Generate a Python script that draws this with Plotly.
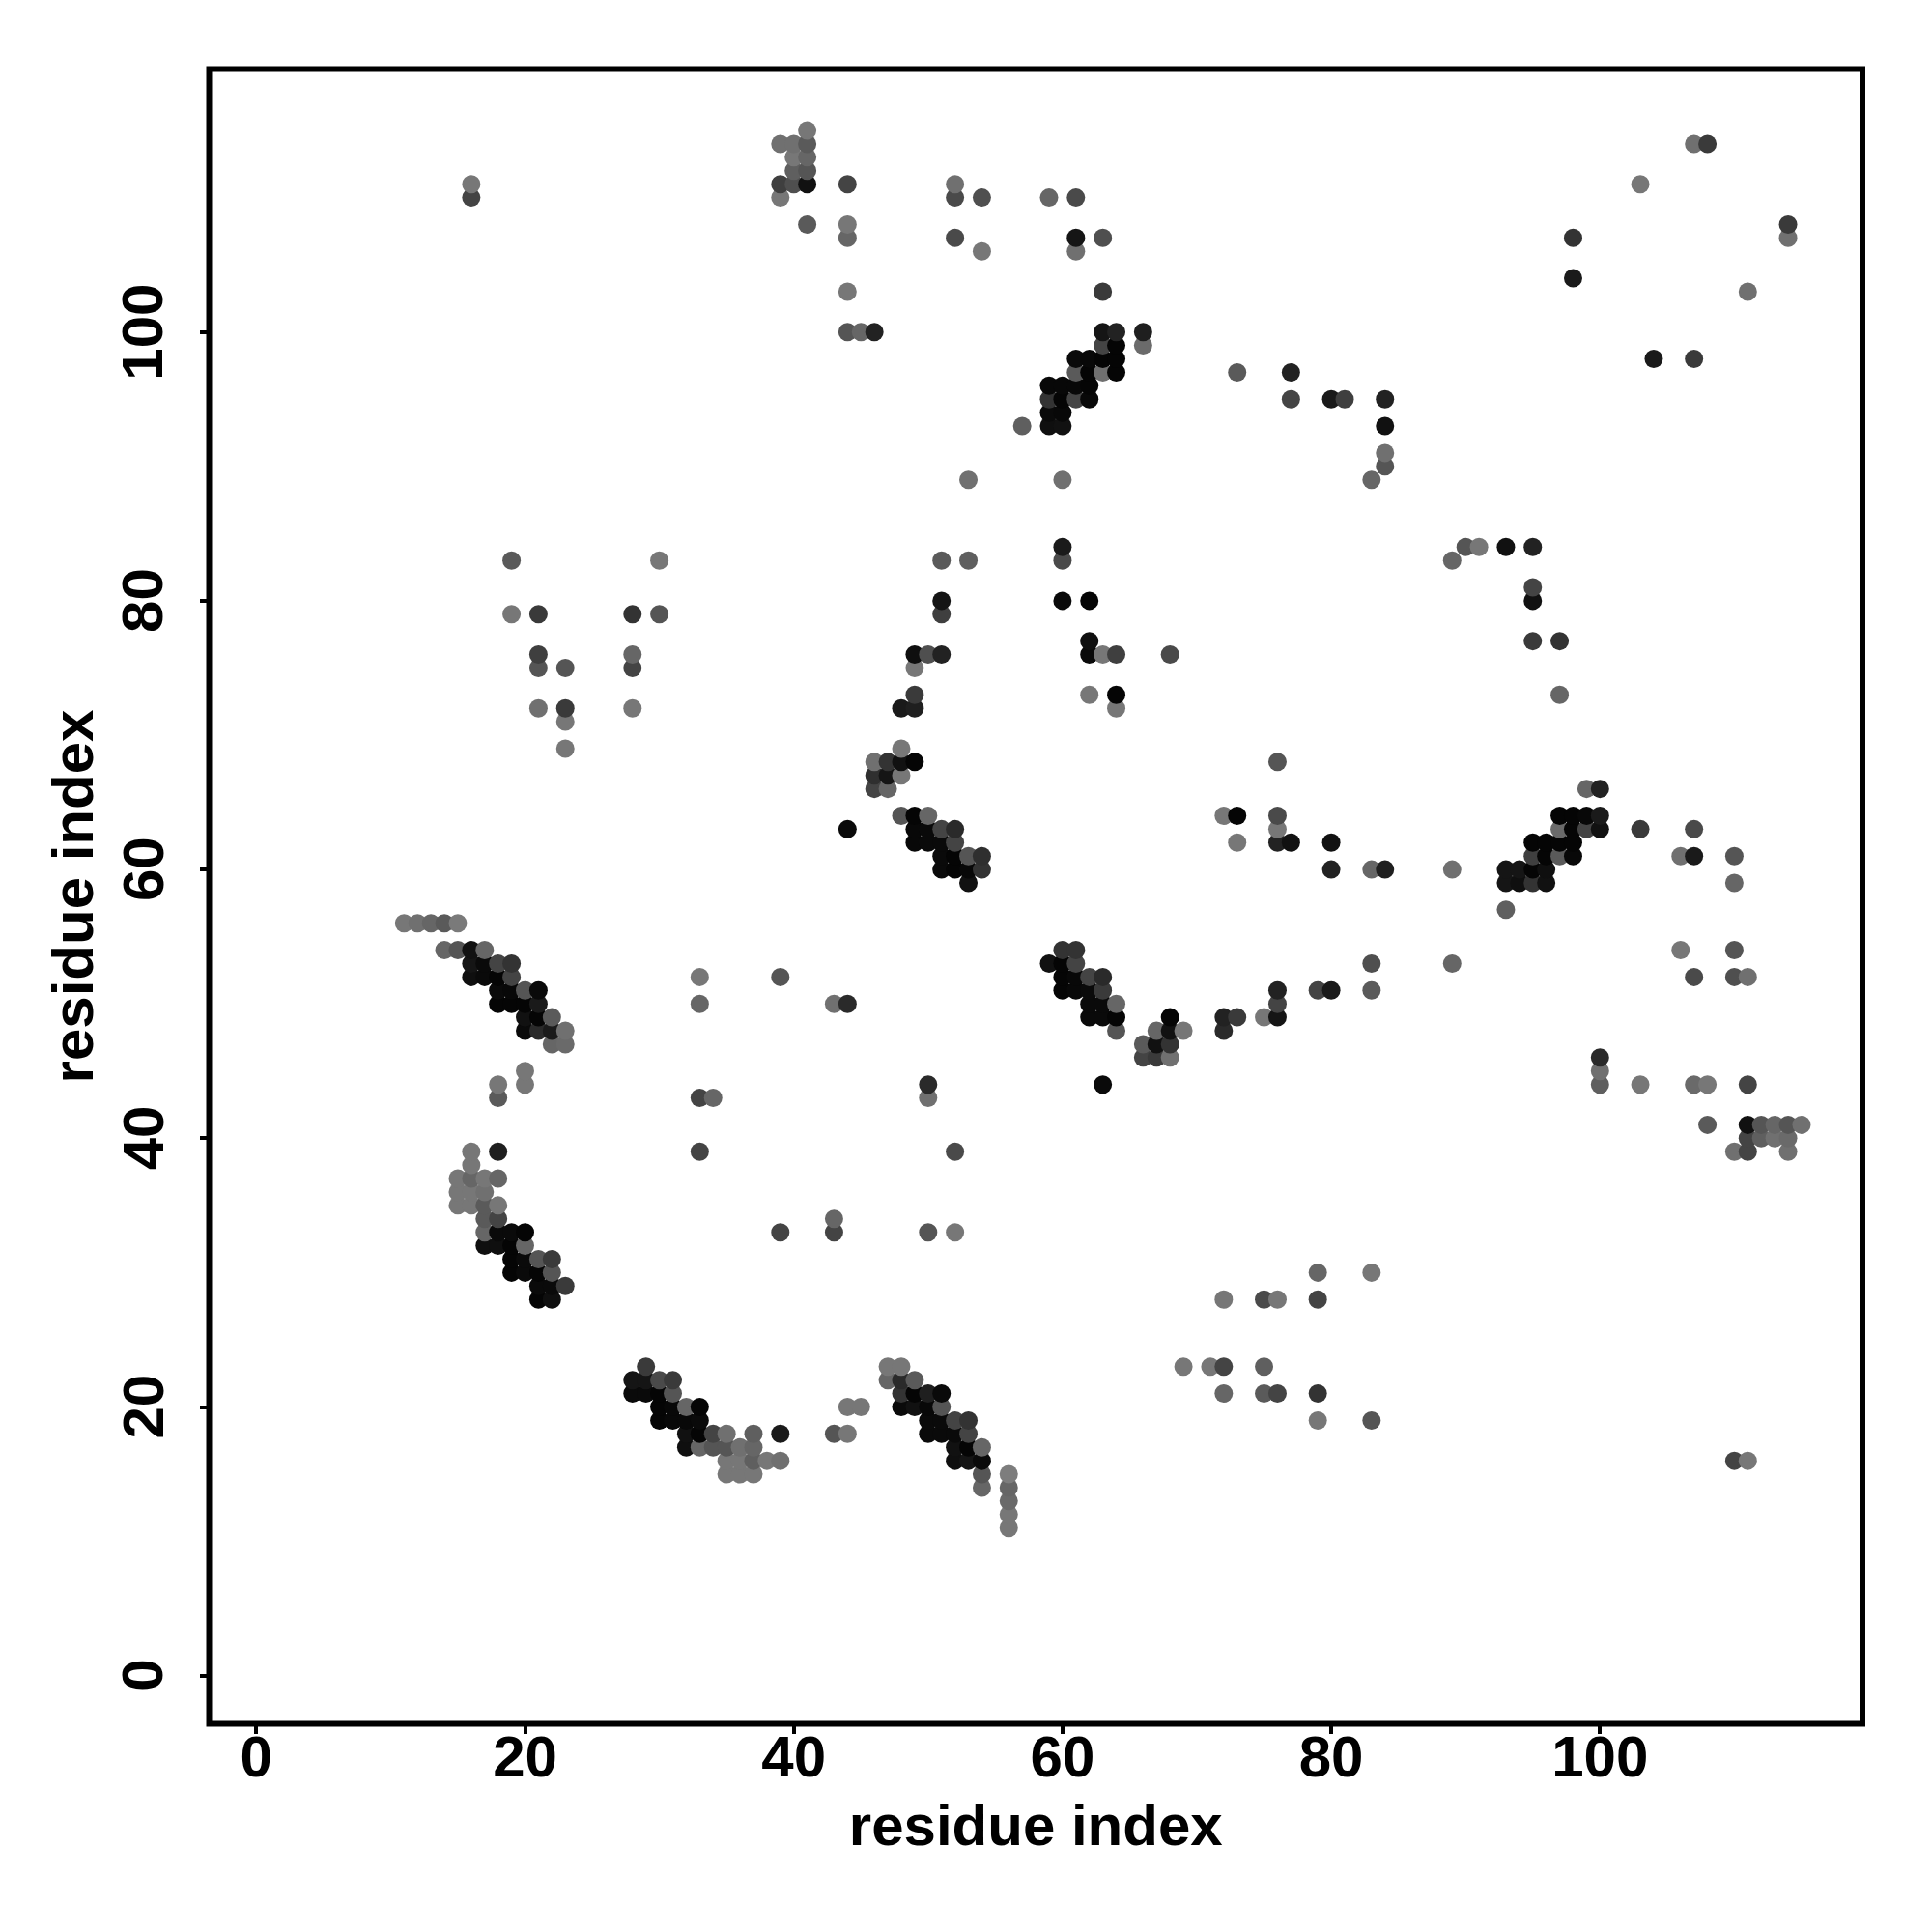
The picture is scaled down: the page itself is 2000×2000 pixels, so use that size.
import numpy as np
import plotly.graph_objects as go

tick_values = [0, 20, 40, 60, 80, 100]
axis_title = "residue index"

row_j = [115, 114, 113, 112, 111, 110, 108, 107, 106, 104, 103, 100, 99, 98, 97, 96, 95, 94, 93, 91, 90, 89,
         84, 83, 81, 80, 79, 77, 76, 75, 73, 72, 71, 69, 68, 67, 66, 64, 63, 62, 61, 60, 59, 57, 56,
         54, 53, 52, 51, 50, 49, 48, 47, 46, 45, 44, 43, 41, 40, 39, 38, 37, 36, 35, 34, 33, 32, 31, 30, 29, 28,
         23, 22, 21, 20, 19, 18, 17, 16, 15, 14, 13, 12, 11]

row_i = [
    [41], [39, 40, 41, 107, 108], [40, 41], [40, 41], [16, 39, 40, 41, 44, 52, 103], [16, 39, 52, 54, 59, 61],
    [41, 44, 114], [44, 52, 61, 63, 98, 114], [54, 61], [98], [44, 63, 111], [44, 45, 46, 63, 64, 66], [63, 64, 66],
    [61, 62, 63, 64, 104, 107], [61, 62, 63, 64, 73, 77], [59, 60, 61, 62], [59, 60, 61, 62, 77, 80, 81, 84],
    [59, 60], [57, 59, 60, 84], [84], [84], [53, 60, 83],
    [60, 90, 91, 93, 95], [19, 30, 51, 53, 60, 89], [95], [51, 60, 62, 95], [19, 21, 28, 30, 51], [62, 95, 97],
    [21, 28, 49, 50, 51, 62, 63, 64, 68], [21, 23, 28, 49], [49, 62, 64, 97], [21, 23, 28, 48, 49, 64], [23],
    [23, 48], [46, 47, 48, 49, 76], [46, 47, 48], [46, 47, 99, 100], [48, 49, 50, 72, 73, 76, 97, 98, 99, 100],
    [44, 49, 50, 51, 52, 76, 97, 98, 99, 100, 103, 107], [49, 50, 51, 52, 73, 76, 77, 80, 95, 96, 97, 98],
    [51, 52, 53, 54, 95, 96, 97, 98, 106, 107, 110], [51, 52, 53, 54, 80, 83, 84, 89, 93, 94, 95, 96],
    [53, 93, 94, 95, 96, 110], [93], [11, 12, 13, 14, 15],
    [14, 15, 16, 17, 60, 61, 106, 110], [16, 17, 18, 19, 59, 60, 61, 83, 89],
    [16, 17, 18, 19, 33, 39, 60, 61, 62, 63, 107, 110, 111], [18, 19, 20, 21, 60, 61, 62, 63, 76, 79, 80, 83],
    [18, 19, 20, 21, 33, 43, 44, 62, 63, 64, 76], [20, 21, 22, 62, 63, 64, 68, 72, 73, 75, 76],
    [20, 21, 22, 23, 64, 67, 68, 69, 72], [22, 23, 66, 67, 68], [66, 67, 68, 100], [20, 100],
    [18, 20, 50, 63, 100, 103, 107, 108, 111], [18, 33, 34, 50], [108, 111, 112, 113, 114, 115], [111, 112, 113, 114],
    [16, 18, 33, 52, 110, 111, 114], [16], [15, 16, 17, 18], [15, 16, 17], [15, 16, 17, 18], [17, 18, 43],
    [17, 18, 19, 20, 39, 43, 50, 52], [17, 18, 19, 20], [19, 20, 21, 22], [19, 20, 21, 22, 79, 83], [21, 22, 23],
    [21, 22, 72, 75, 76, 79],
    [29, 47, 48, 69, 71, 72, 75], [28, 29, 30, 31, 47, 48, 49], [28, 29, 30, 31, 48, 49, 50, 51, 72, 75, 76, 79],
    [30, 31, 32, 33, 44, 45, 48, 49, 50, 51], [30, 31, 32, 33, 50, 51, 52, 53, 79, 83],
    [32, 33, 34, 35, 37, 39, 43, 44, 50, 51, 52, 53], [32, 33, 34, 35, 36, 37, 52, 53, 54],
    [35, 36, 37, 38, 39, 52, 53, 54, 110, 111], [35, 36, 37, 54, 56], [54, 56], [56], [56], [56],
]

row_grey = [
    [119], [112, 112, 90, 112, 58], [119, 102], [95, 85], [119, 63, 79, 17, 68, 112, 119], [68, 119, 74, 79, 102, 74],
    [90, 119, 58], [102, 74, 21, 79, 51, 112], [119, 112], [26], [119, 58, 112], [85, 102, 34, 21, 34, 31], [68, 5, 107],
    [10, 8, 5, 5, 26, 58], [90, 5, 112, 5, 90, 34], [8, 8, 8, 5], [51, 5, 68, 8, 68, 26, 63, 34],
    [10, 8], [95, 15, 17, 17], [112], [85], [112, 112, 102],
    [26, 85, 119, 17, 34], [90, 119, 90, 95, 74, 102], [68], [21, 10, 5, 17], [119, 58, 51, 85, 63], [15, 58, 51],
    [63, 102, 15, 79, 34, 10, 119, 63, 74], [85, 85, 68, 119], [58, 119, 5, 102], [112, 58, 119, 26, 31, 119], [119],
    [119, 119], [112, 51, 17, 5, 85], [47, 21, 119], [68, 102, 102, 34], [85, 5, 102, 119, 5, 74, 5, 5, 8, 26],
    [10, 8, 10, 68, 42, 119, 106, 5, 68, 17, 58, 74], [8, 10, 10, 68, 119, 34, 17, 17, 5, 5, 5, 5],
    [10, 5, 85, 47, 63, 5, 90, 8, 112, 26, 85], [10, 5, 8, 51, 34, 102, 31, 112, 21, 21, 5, 15],
    [17, 21, 15, 51, 17, 102], [95], [119, 112, 102, 90, 122],
    [102, 85, 17, 102, 51, 51, 119, 85], [21, 10, 68, 51, 17, 5, 68, 79, 102],
    [15, 10, 5, 68, 119, 85, 5, 8, 68, 42, 74, 79, 112], [10, 8, 85, 10, 5, 8, 10, 58, 34, 68, 26, 90],
    [5, 5, 5, 26, 102, 112, 42, 10, 10, 102, 68], [17, 5, 90, 10, 10, 5, 5, 34, 58, 119, 21],
    [10, 42, 26, 112, 85, 102, 17, 119, 42], [102, 106, 90, 17, 51], [68, 58, 112, 42], [119, 112],
    [119, 119, 42, 10, 95, 119, 106, 119, 68], [90, 68, 102, 112], [90, 17, 85, 102, 85, 112], [68, 95, 112, 106],
    [119, 31, 68, 74, 112, 68, 112], [119], [119, 102, 119, 102], [119, 119, 112], [119, 119, 90, 119], [90, 68, 102],
    [102, 10, 10, 5, 68, 68, 85, 119], [15, 15, 5, 102], [5, 10, 85, 58], [5, 10, 5, 85, 102, 119], [10, 10, 58],
    [5, 15, 119, 74, 119, 68],
    [58, 119, 119, 119, 119, 68, 95], [21, 21, 74, 58, 102, 42, 90], [10, 10, 5, 85, 51, 5, 31, 10, 102, 90, 68, 51],
    [5, 8, 102, 5, 119, 119, 10, 17, 8, 85], [5, 8, 8, 10, 10, 10, 68, 51, 119, 85],
    [17, 5, 68, 112, 95, 26, 85, 119, 10, 10, 10, 68], [15, 102, 85, 85, 112, 102, 17, 5, 102],
    [119, 119, 95, 119, 112, 15, 21, 10, 68, 119], [119, 119, 119, 85, 125], [102, 102], [106], [119], [119],
]

xs = np.concatenate(row_i)
ys = np.concatenate([[j] * len(r) for j, r in zip(row_j, row_i)])
gs = np.concatenate(row_grey)
order = np.lexsort((ys, xs))
colors = [f"rgb({g},{g},{g})" for g in gs[order]]

W = 2000
PAGE = 8  # page margin of the browser body
L, R, T, B = 216.5 - PAGE, 1928.0 - PAGE, 71.5 - PAGE, 1784.5 - PAGE
X0, Y0, U = 265.3 - PAGE, 1734.7 - PAGE, 13.91
YLABEL_X = 140

font_main = dict(family="Liberation Sans", size=60, color="black", weight=700)

fig = go.Figure(go.Scatter(
    x=xs[order], y=ys[order], mode="markers",
    marker=dict(size=19, color=colors, line=dict(width=0)),
    hoverinfo="skip",
))

axis_common = dict(
    tickmode="array", tickvals=tick_values, ticktext=[str(t) for t in tick_values],
    ticks="outside", ticklen=9, tickwidth=4, tickcolor="black",
    showgrid=False, zeroline=False, showline=False,
    tickfont=font_main,
)
fig.update_layout(
    width=W, height=W, margin=dict(l=0, r=0, t=0, b=0), autosize=False,
    paper_bgcolor="white", plot_bgcolor="white", showlegend=False,
    xaxis=dict(domain=[L / W, R / W], range=[(L - X0) / U, (R - X0) / U], ticklabelstandoff=-28,
               title=dict(text=axis_title, font=font_main, standoff=17), **axis_common),
    yaxis=dict(domain=[1 - B / W, 1 - T / W], range=[(Y0 - B) / U, (Y0 - T) / U], showticklabels=False,
               title=dict(text=axis_title, font=font_main, standoff=90), **axis_common),
    shapes=[dict(type="rect", xref="paper", yref="paper", x0=L / W, x1=R / W, y0=1 - B / W, y1=1 - T / W,
                 line=dict(color="black", width=6), fillcolor="rgba(0,0,0,0)", layer="above")],
    annotations=[dict(text=str(t), xref="paper", yref="y", x=YLABEL_X / W, y=t, textangle=-90, showarrow=False,
                      xanchor="center", yanchor="middle", font=font_main) for t in tick_values],
)
fig.write_html("out.html")
